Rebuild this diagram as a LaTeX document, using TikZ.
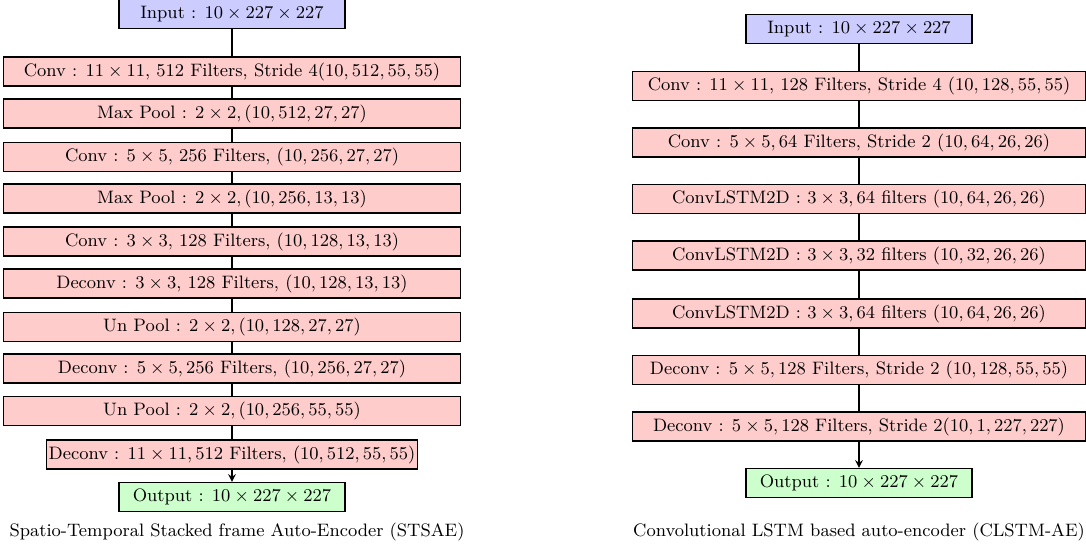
\documentclass[tikz,border=0pt]{standalone}
\usetikzlibrary{arrows}
\definecolor{inblue}{RGB}{204,204,255}
\definecolor{layred}{RGB}{255,204,204}
\definecolor{outgreen}{RGB}{204,255,204}
\begin{document}
\begin{tikzpicture}[x=0.5pt,y=-0.5pt,>=stealth]
        \tikzstyle{layer}=[rectangle,draw=black,line width=0.7pt,fill=layred,minimum height=14.5pt,inner sep=0pt,font=\small]
        \tikzstyle{wideL}=[layer,minimum width=228.5pt]
        \tikzstyle{wideR}=[layer,minimum width=226.5pt]
        \tikzstyle{input}=[layer,fill=inblue,minimum width=113pt]
        \tikzstyle{output}=[layer,fill=outgreen,minimum width=113pt]
        \tikzstyle{edge}=[draw, line width=0.7pt]
        \useasboundingbox (0,0) rectangle (1086,552);
       % STSAE
       \begin{scope}
         \node [input] (s0) at (232,14) {Input : $10\times227\times227$};
         \node [wideL] (s1) at (232,71.5) {Conv : $11\times11$, 512 Filters, Stride 4$(10,512,55,55)$};
         \node [wideL] (s2) at (232,113.5) {Max Pool : $2\times2,(10,512,27,27)$};
         \node [wideL] (s3) at (232,157) {Conv : $5\times5$, 256 Filters, $(10,256,27,27)$};
         \node [wideL] (s4) at (232,198.5) {Max Pool : $2\times2,(10,256,13,13)$};
         \node [wideL] (s5) at (232,241.5) {Conv : $3\times3$, 128 Filters, $(10,128,13,13)$};
         \node [wideL] (s6) at (232,283.5) {Deconv : $3\times3$, 128 Filters, $(10,128,13,13)$};
         \node [wideL] (s7) at (232,327) {Un Pool : $2\times2,(10,128,27,27)$};
         \node [wideL] (s8) at (232,368.5) {Deconv : $5\times5,256$ Filters, $(10,256,27,27)$};
         \node [wideL] (s9) at (232,411) {Un Pool : $2\times2,(10,256,55,55)$};
         \node [layer,minimum width=185.5pt] (s10) at (232,454.5) {Deconv : $11\times11,512$ Filters, $(10,512,55,55)$};
         \node [output] (s11) at (232,497) {Output : $10\times227\times227$};
         \path[edge] (s0) -- (s1) (s1) -- (s2) (s2) -- (s3) (s3) -- (s4) (s4) -- (s5)
           (s5) -- (s6) (s6) -- (s7) (s7) -- (s8) (s8) -- (s9) (s9) -- (s10);
         \path[edge,->] (s10) -- (s11);
         \node [font=\small] (capL) at (237,532) {Spatio-Temporal Stacked frame Auto-Encoder (STSAE)};
        \end{scope}
       % CLSTM-AE
       \begin{scope}
         \node [input] (c0) at (859,29) {Input : $10\times227\times227$};
         \node [wideR] (c1) at (859,86) {Conv : $11\times11$, 128 Filters, Stride 4 $(10,128,55,55)$};
         \node [wideR] (c2) at (859,142.5) {Conv : $5\times5,64$ Filters, Stride 2 $(10,64,26,26)$};
         \node [wideR] (c3) at (859,199) {ConvLSTM2D : $3\times3,64$ filters $(10,64,26,26)$};
         \node [wideR] (c4) at (859,255.5) {ConvLSTM2D : $3\times3,32$ filters $(10,32,26,26)$};
         \node [wideR] (c5) at (859,313.5) {ConvLSTM2D : $3\times3,64$ filters $(10,64,26,26)$};
         \node [wideR] (c6) at (859,370) {Deconv : $5\times5,128$ Filters, Stride 2 $(10,128,55,55)$};
         \node [wideR] (c7) at (859,426.5) {Deconv : $5\times5,128$ Filters, Stride 2$(10,1,227,227)$};
         \node [output] (c8) at (859,483) {Output : $10\times227\times227$};
         \path[edge] (c0) -- (c1) (c1) -- (c2) (c2) -- (c3) (c3) -- (c4) (c4) -- (c5)
           (c5) -- (c6) (c6) -- (c7);
         \path[edge,->] (c7) -- (c8);
         \node [font=\small] (capR) at (859,532) {Convolutional LSTM based auto-encoder (CLSTM-AE)};
        \end{scope}
      \end{tikzpicture}
\end{document}
